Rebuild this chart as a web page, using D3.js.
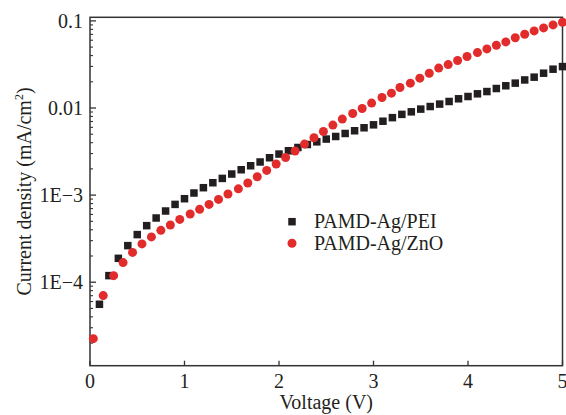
<!DOCTYPE html>
<html>
<head>
<meta charset="utf-8">
<script src="https://cdn.jsdelivr.net/npm/d3@7"></script>
<style>
  body { margin: 0; background: #fff; }
  text { font-family: "Liberation Serif", "Times New Roman", serif; fill: #231f20; }
</style>
</head>
<body>
<script>
// J-V curves, values
var pei_V = [0.1, 0.2, 0.3, 0.4, 0.5, 0.6, 0.7, 0.8, 0.9, 1.0,
             1.1, 1.2, 1.3, 1.4, 1.5, 1.6, 1.7, 1.8, 1.9, 2.0,
             2.1, 2.2, 2.3, 2.4, 2.5, 2.6, 2.7, 2.8, 2.9, 3.0,
             3.1, 3.2, 3.3, 3.4, 3.5, 3.6, 3.7, 3.8, 3.9, 4.0,
             4.1, 4.2, 4.3, 4.4, 4.5, 4.6, 4.7, 4.8, 4.9, 5.0];
var pei_J = [5.58e-5, 1.19e-4, 1.88e-4, 2.63e-4, 3.52e-4, 4.46e-4, 5.46e-4, 6.57e-4, 7.82e-4, 9.09e-4,
             1.057e-3, 1.216e-3, 1.387e-3, 1.555e-3, 1.746e-3, 1.955e-3, 2.173e-3, 2.40e-3, 2.685e-3, 2.96e-3,
             3.23e-3, 3.52e-3, 3.81e-3, 4.09e-3, 4.40e-3, 4.71e-3, 5.10e-3, 5.48e-3, 5.93e-3, 6.41e-3,
             7.05e-3, 7.75e-3, 8.45e-3, 9.04e-3, 9.71e-3, 1.04e-2, 1.109e-2, 1.188e-2, 1.276e-2, 1.355e-2,
             1.455e-2, 1.545e-2, 1.674e-2, 1.80e-2, 1.93e-2, 2.10e-2, 2.26e-2, 2.51e-2, 2.79e-2, 2.99e-2];

var zno_V = [0.035, 0.14, 0.25, 0.35, 0.45, 0.55, 0.65, 0.75, 0.85, 0.95,
             1.06, 1.16, 1.26, 1.36, 1.46, 1.57, 1.67, 1.77, 1.87, 1.97,
             2.07, 2.17, 2.27, 2.37, 2.47, 2.57, 2.67, 2.78, 2.88, 2.98,
             3.09, 3.19, 3.28, 3.39, 3.49, 3.59, 3.69, 3.79, 3.89, 3.99,
             4.10, 4.20, 4.30, 4.40, 4.50, 4.60, 4.70, 4.80, 4.90, 5.0];
var zno_J = [2.25e-5, 7.02e-5, 1.19e-4, 1.68e-4, 2.20e-4, 2.75e-4, 3.31e-4, 3.94e-4, 4.54e-4, 5.26e-4,
             6.07e-4, 6.86e-4, 7.82e-4, 8.93e-4, 1.03e-3, 1.18e-3, 1.377e-3, 1.625e-3, 1.92e-3, 2.275e-3,
             2.70e-3, 3.21e-3, 3.85e-3, 4.55e-3, 5.38e-3, 6.37e-3, 7.46e-3, 8.65e-3, 9.87e-3, 1.138e-2,
             1.32e-2, 1.48e-2, 1.72e-2, 1.93e-2, 2.20e-2, 2.51e-2, 2.87e-2, 3.15e-2, 3.51e-2, 3.90e-2,
             4.33e-2, 4.77e-2, 5.26e-2, 5.74e-2, 6.40e-2, 7.03e-2, 7.67e-2, 8.31e-2, 8.99e-2, 9.66e-2];

var xTicks = [0, 1, 2, 3, 4, 5];
var yTicks = [1e-4, 1e-3, 0.01, 0.1];
var yTickLabels = ["1E\u22124", "1E\u22123", "0.01", "0.1"];
var seriesNames = ["PAMD-Ag/PEI", "PAMD-Ag/ZnO"];

var width = 566, height = 415;
var plotL = 90, plotR = 562.5, plotT = 17.3, plotB = 365.7;
var ink = "#231f20", red = "#e22b2b";

var svg = d3.select("body").append("svg")
    .attr("width", width)
    .attr("height", height);

var x = d3.scaleLinear().domain([0, 5]).range([plotL, plotR]);
var y = d3.scaleLog().domain([1.1e-5, 0.11]).range([plotB, plotT]);

// frame
svg.append("rect")
    .attr("x", plotL).attr("y", plotT)
    .attr("width", plotR - plotL).attr("height", plotB - plotT)
    .attr("fill", "none").attr("stroke", "#333").attr("stroke-width", 1.5);

// x ticks (inward)
var gx = svg.append("g");
gx.selectAll("line").data(xTicks).enter().append("line")
    .attr("x1", d => x(d)).attr("x2", d => x(d))
    .attr("y1", plotB).attr("y2", plotB - 5)
    .attr("stroke", "#333").attr("stroke-width", 1.3);
gx.selectAll("text").data(xTicks).enter().append("text")
    .attr("x", d => x(d)).attr("y", plotB + 22)
    .attr("text-anchor", "middle")
    .attr("font-size", 20)
    .text(d => d);

// y ticks: major + minor per decade
var minor = [];
[1e-5, 1e-4, 1e-3, 1e-2].forEach(function (dec) {
    for (var k = 2; k <= 9; k++) {
        var v = dec * k;
        if (v > 1.1e-5 && v < 0.11) minor.push(v);
    }
});
var gy = svg.append("g");
gy.selectAll("line.minor").data(minor).enter().append("line")
    .attr("class", "minor")
    .attr("x1", plotL).attr("x2", plotL + 3)
    .attr("y1", d => y(d)).attr("y2", d => y(d))
    .attr("stroke", "#333").attr("stroke-width", 1.1);
gy.selectAll("line.major").data(yTicks).enter().append("line")
    .attr("class", "major")
    .attr("x1", plotL).attr("x2", plotL + 6)
    .attr("y1", d => y(d)).attr("y2", d => y(d))
    .attr("stroke", "#333").attr("stroke-width", 1.3);
gy.selectAll("text").data(yTicks).enter().append("text")
    .attr("x", plotL - 7).attr("y", d => y(d))
    .attr("dy", "0.35em")
    .attr("text-anchor", "end")
    .attr("font-size", 20)
    .text((d, i) => yTickLabels[i]);

// axis titles
svg.append("text")
    .attr("x", (plotL + plotR) / 2).attr("y", 409)
    .attr("text-anchor", "middle")
    .attr("font-size", 20)
    .text("Voltage (V)");

var yt = svg.append("text")
    .attr("transform", "translate(31," + (plotB + plotT) / 2 + ") rotate(-90)")
    .attr("text-anchor", "middle")
    .attr("font-size", 20);
yt.append("tspan").text("Current density (mA/cm");
yt.append("tspan").attr("font-size", 12).attr("dy", -8).text("2");
yt.append("tspan").attr("dy", 8).text(")");

// data
var pei = pei_V.map((v, i) => ({ v: v, j: pei_J[i] }));
var zno = zno_V.map((v, i) => ({ v: v, j: zno_J[i] }));
var s = 7.5;

svg.append("g").selectAll("rect").data(pei).enter().append("rect")
    .attr("x", d => x(d.v) - s / 2).attr("y", d => y(d.j) - s / 2)
    .attr("width", s).attr("height", s)
    .attr("fill", ink);

svg.append("g").selectAll("circle").data(zno).enter().append("circle")
    .attr("cx", d => x(d.v)).attr("cy", d => y(d.j))
    .attr("r", 4.5)
    .attr("fill", red);

// legend
var lg = svg.append("g");
lg.append("rect").attr("x", 292 - s / 2).attr("y", 221.7 - s / 2)
    .attr("width", s).attr("height", s).attr("fill", ink);
lg.append("circle").attr("cx", 292).attr("cy", 243.3).attr("r", 4.5).attr("fill", red);
lg.append("text").attr("x", 314).attr("y", 228).attr("font-size", 20).text(seriesNames[0]);
lg.append("text").attr("x", 314).attr("y", 249.5).attr("font-size", 20).text(seriesNames[1]);
</script>
</body>
</html>
